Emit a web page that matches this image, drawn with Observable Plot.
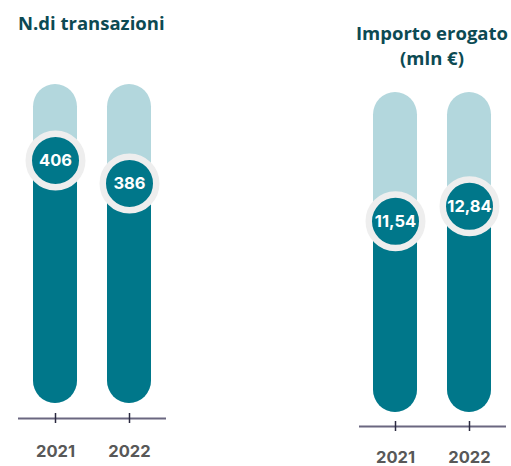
<!DOCTYPE html>
<html>
<head>
<meta charset="utf-8">
<script src="https://cdn.jsdelivr.net/npm/d3@7"></script>
<script src="https://cdn.jsdelivr.net/npm/@observablehq/plot@0.6"></script>
<style>
  body { margin: 0; background: #ffffff; }
  #wrap { position: relative; width: 511px; height: 466px; overflow: hidden; }
  .title { position: absolute; font-family: "Open Sans", sans-serif; font-weight: 700; font-size: 18.5px; line-height: 25px; color: #0c4a53; white-space: nowrap; }
  .panel { position: absolute; top: 0; }
  .panel g[aria-label="x-axis tick"] { stroke: #2b2a40; stroke-width: 1.5px; }
  .panel g[aria-label="x-axis tick label"] { fill: #585858; font-weight: 700; font-size: 16.5px; font-family: Inter, sans-serif; }
</style>
</head>
<body>
<div id="wrap">
  <div class="panel" id="left"></div>
  <div class="panel" id="right" style="left:255px"></div>
  <div class="title" style="left:18px; top:10px;">N.di transazioni</div>
  <div class="title" style="left:332px; top:20px; width:200px; text-align:center;">Importo erogato<br>(mln €)</div>
</div>
<script>
// ---- data ----
const years = ["2021", "2022"];
const transazioni = [406, 386];
const importo = [11.54, 12.84];
const importoLabels = ["11,54", "12,84"];
const transazioniLabels = ["406", "386"];

// ---- style ----
const dark = "#00778a";
const light = "#b3d7dd";
const ring = "#eeeeee";
const axisLine = "#6a6780";

function panel({values, labels, domain, width, marginLeft, marginRight, marginTop, marginBottom, inset, padding, tickPadding}) {
  const data = years.map((y, i) => ({year: y, value: values[i], label: labels[i]}));
  const [d0, d1] = domain;
  return Plot.plot({
    width, height: 466,
    marginLeft, marginRight, marginTop, marginBottom,
    style: {fontFamily: "Inter, sans-serif", fontSize: "16.5px", background: "transparent", overflow: "visible"},
    x: {domain: years, paddingInner: 0.4, paddingOuter: padding, label: null},
    y: {domain, axis: null},
    marks: [
      Plot.ruleY([d0], {dy: 5, stroke: axisLine, strokeWidth: 2}),
      Plot.axisX({tickSize: 10, tickPadding, label: null}),
      // background track
      Plot.barY(data, {x: "year", y1: d0, y2: d1, insetBottom: inset, rx: 22.5, ry: 22.5, fill: light}),
      // filled bar (rounded bottom + square top)
      Plot.barY(data, {x: "year", y1: d0, y2: "value", insetBottom: inset, rx: 22.5, ry: 22.5, fill: dark}),
      Plot.barY(data, {x: "year", y1: d0, y2: "value", insetBottom: inset + 23, fill: dark}),
      // value badge
      Plot.dot(data, {x: "year", y: "value", r: 26.75, fill: dark, stroke: ring, strokeWidth: 6.5}),
      Plot.text(data, {x: "year", y: "value", text: "label", fill: "#ffffff", fontWeight: 700, fontSize: 16.5, fontFamily: "Inter, sans-serif"})
    ]
  });
}

document.getElementById("left").append(panel({
  values: transazioni, labels: transazioniLabels, domain: [186, 472],
  width: 255, marginLeft: 18, marginRight: 89, marginTop: 84, marginBottom: 53, inset: 10, padding: 0.19, tickPadding: 22
}));
document.getElementById("right").append(panel({
  values: importo, labels: importoLabels, domain: [-5.8, 22.7],
  width: 256, marginLeft: 104, marginRight: 5, marginTop: 92, marginBottom: 45, inset: 9, padding: 0.19, tickPadding: 20
}));
</script>
</body>
</html>
